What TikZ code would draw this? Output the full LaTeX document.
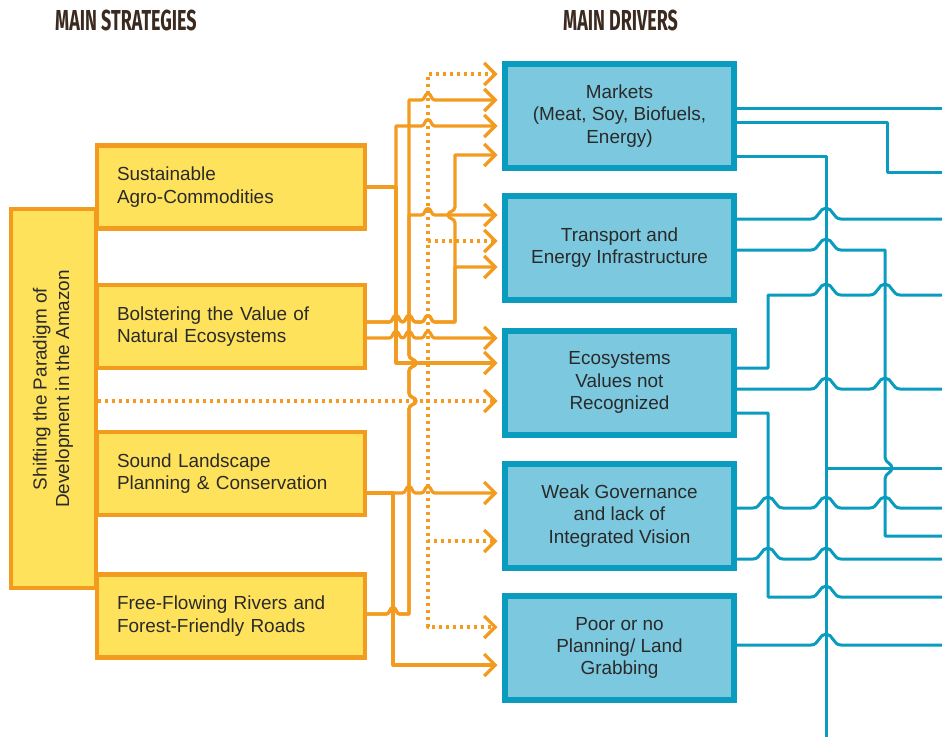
\documentclass[tikz,border=0pt]{standalone}
\usepackage{fontspec}
\setmainfont{Liberation Sans}
\newfontfamily\headfont{Fira Sans}[FakeStretch=0.62]
\usetikzlibrary{arrows.meta}

\definecolor{orangeline}{HTML}{F39B1F}
\definecolor{yellowfill}{HTML}{FFE25C}
\definecolor{tealline}{HTML}{0A9CBE}
\definecolor{tealfill}{HTML}{7CC8DE}
\definecolor{inktext}{HTML}{2A2A2A}
\definecolor{headink}{HTML}{3A2A1F}

% small bump of a horizontal line over a vertical one at (#1,#2)
\newcommand\ohop[2]{-- ({#1-6.5},#2) .. controls ({#1-3},#2) and ({#1-3.5},{#2-6.5}) .. (#1,{#2-6.5}) .. controls ({#1+3.5},{#2-6.5}) and ({#1+3},#2) .. ({#1+6.5},#2)}
% jog of an upward vertical line around a horizontal one, to the right / left
\newcommand\ojogR[2]{-- (#1,{#2+8}) .. controls (#1,{#2+3}) and ({#1+7},{#2+4}) .. ({#1+7},#2) .. controls ({#1+7},{#2-4}) and (#1,{#2-3}) .. (#1,{#2-8})}
\newcommand\ojogL[2]{-- (#1,{#2+8}) .. controls (#1,{#2+3}) and ({#1-7},{#2+4}) .. ({#1-7},#2) .. controls ({#1-7},{#2-4}) and (#1,{#2-3}) .. (#1,{#2-8})}
% larger bumps for the teal wiring
\newcommand\thop[2]{-- ({#1-15},#2) .. controls ({#1-7},#2) and ({#1-7},{#2-11}) .. (#1,{#2-11}) .. controls ({#1+7},{#2-11}) and ({#1+7},#2) .. ({#1+15},#2)}
% downward vertical teal line jogging right around a horizontal one
\newcommand\tjog[2]{-- (#1,{#2-11}) .. controls (#1,{#2-5}) and ({#1+7},{#2-5}) .. ({#1+7},#2) .. controls ({#1+7},{#2+5}) and (#1,{#2+5}) .. (#1,{#2+11})}

\tikzset{
  bodyfont/.style={font=\fontsize{19}{22.5}\selectfont, text=inktext},
  strat/.style={bodyfont, draw=orangeline, line width=4.2bp, fill=yellowfill,
    text width=228bp, inner xsep=20bp, inner ysep=0bp, minimum height=83bp, align=left},
  driver/.style={bodyfont, draw=tealline, line width=6bp, fill=tealfill,
    minimum width=229bp, minimum height=104bp, align=center, inner sep=0bp},
  header/.style={font=\headfont\bfseries\fontsize{29}{29}\selectfont, text=headink, inner sep=0bp, anchor=base west},
  oline/.style={draw=orangeline, line width=3.2bp, line join=round},
  oarrow/.style={oline, -{Straight Barb[length=11bp, width=22bp]}, shorten >=4.5bp},
  odots/.style={oarrow, dash pattern=on 3bp off 4bp},
  tline/.style={draw=tealline, line width=3bp, line join=round},
}

\begin{document}
\begin{tikzpicture}[x=1bp, y=-1bp]
\useasboundingbox (0,0) rectangle (942,737);

% headings
\node[header] (hstrat) at (55,31) {MAIN STRATEGIES};
\node[header] (hdriv) at (563,31) {MAIN DRIVERS};

% overarching strategy
\node[draw=orangeline, line width=4.2bp, fill=yellowfill, minimum width=85bp, minimum height=379bp, inner sep=0bp] (tall) at (53.5,398.5) {};
\node[bodyfont, rotate=90, align=center, inner sep=0bp] (talltext) at (53,389) {Shifting the Paradigm of\\Development in the Amazon};

% strategies
\node[strat] (sus) at (231,187) {Sustainable\\Agro-Commodities};
\node[strat] (bol) at (231,326.5) {Bolstering the Value of\\Natural Ecosystems};
\node[strat] (snd) at (231,473.5) {Sound Landscape\\Planning \& Conservation};
\node[strat] (free) at (231,616) {Free-Flowing Rivers and\\Forest-Friendly Roads};

% drivers
\node[driver] (mk) at (619.5,116) {Markets\\(Meat, Soy, Biofuels,\\Energy)};
\node[driver] (tr) at (619.5,247.5) {Transport and\\Energy Infrastructure};
\node[driver] (eco) at (619.5,382.5) {Ecosystems\\Values not\\Recognized};
\node[driver] (wk) at (619.5,516) {Weak Governance\\and lack of\\Integrated Vision};
\node[driver] (pr) at (619.5,648) {Poor or no\\Planning/ Land\\Grabbing};

% strategy -> driver links
\draw[oarrow] (sus.east |- 0,187) -- (396,187) -- (396,126) \ohop{428}{126} -- (mk.west |- 0,126);
\draw[oarrow] (sus.east |- 0,187) -- (396,187) -- (396,363) -- (eco.west |- 0,363);

\draw[oarrow] (free.east |- 0,614) \ohop{393}{614} -- (409,614) \ojogR{409}{401} \ojogR{409}{363} -- (409,100) \ohop{428}{100} -- (mk.west |- 0,100);
\draw[oarrow] (free.east |- 0,614) \ohop{393}{614} -- (409,614) \ojogR{409}{401} \ojogR{409}{363} -- (409,215) \ohop{428}{215} -- (tr.west |- 0,215);

\draw[oarrow] (bol.east |- 0,322) \ohop{396}{322} \ohop{409}{322} \ohop{428}{322} -- (455,322) \ojogL{455}{215} -- (455,155) -- (mk.west |- 0,155);
\draw[oarrow] (bol.east |- 0,322) \ohop{396}{322} \ohop{409}{322} \ohop{428}{322} -- (455,322) -- (455,267) -- (tr.west |- 0,267);
\draw[oarrow] (bol.east |- 0,338) \ohop{396}{338} \ohop{409}{338} \ohop{428}{338} -- (eco.west |- 0,338);

\draw[oarrow] (snd.east |- 0,493) \ohop{409}{493} \ohop{428}{493} -- (wk.west |- 0,493);
\draw[oarrow] (snd.east |- 0,493) -- (393,493) -- (393,665) -- (pr.west |- 0,665);

% dotted links from the overarching strategy
\draw[odots] (tall.east |- 0,401) -- (eco.west |- 0,401);
\draw[odots] (tall.east |- 0,401) -- (428,401) -- (428,74) -- (mk.west |- 0,74);
\draw[odots] (tall.east |- 0,401) -- (428,401) -- (428,241) -- (tr.west |- 0,241);
\draw[odots] (tall.east |- 0,401) -- (428,401) -- (428,541) -- (wk.west |- 0,541);
\draw[odots] (tall.east |- 0,401) -- (428,401) -- (428,627) -- (pr.west |- 0,627);

% outgoing driver wiring
\coordinate (o1) at (942,108);
\coordinate (o2) at (942,172);
\coordinate (o3) at (942,468);
\coordinate (ob) at (826,737);
\coordinate (o4) at (942,219);
\coordinate (o5) at (942,536);
\coordinate (o6) at (942,295);
\coordinate (o7) at (942,389);
\coordinate (o8) at (942,597);
\coordinate (o9) at (942,508);
\coordinate (o10) at (942,559);
\coordinate (o11) at (942,645);

\draw[tline] (mk.east |- 0,108) -- (o1);
\draw[tline] (mk.east |- 0,122) -- (887,122) -- (887,172) -- (o2);
\draw[tline] (mk.east |- 0,156) -- (826,156) -- (ob);
\draw[tline] (mk.east |- 0,156) -- (826,156) -- (826,468) -- (o3);
\draw[tline] (tr.east |- 0,219) \thop{826}{219} -- (o4);
\draw[tline] (tr.east |- 0,250) \thop{826}{250} -- (885,250) \tjog{885}{468} -- (885,536) -- (o5);
\draw[tline] (eco.east |- 0,368) -- (768,368) -- (768,295) \thop{826}{295} \thop{885}{295} -- (o6);
\draw[tline] (eco.east |- 0,389) \thop{826}{389} \thop{885}{389} -- (o7);
\draw[tline] (eco.east |- 0,413) -- (768,413) -- (768,597) \thop{826}{597} -- (o8);
\draw[tline] (wk.east |- 0,508) \thop{768}{508} \thop{826}{508} \thop{885}{508} -- (o9);
\draw[tline] (wk.east |- 0,559) \thop{768}{559} \thop{826}{559} -- (o10);
\draw[tline] (pr.east |- 0,645) \thop{826}{645} -- (o11);
\end{tikzpicture}
\end{document}
